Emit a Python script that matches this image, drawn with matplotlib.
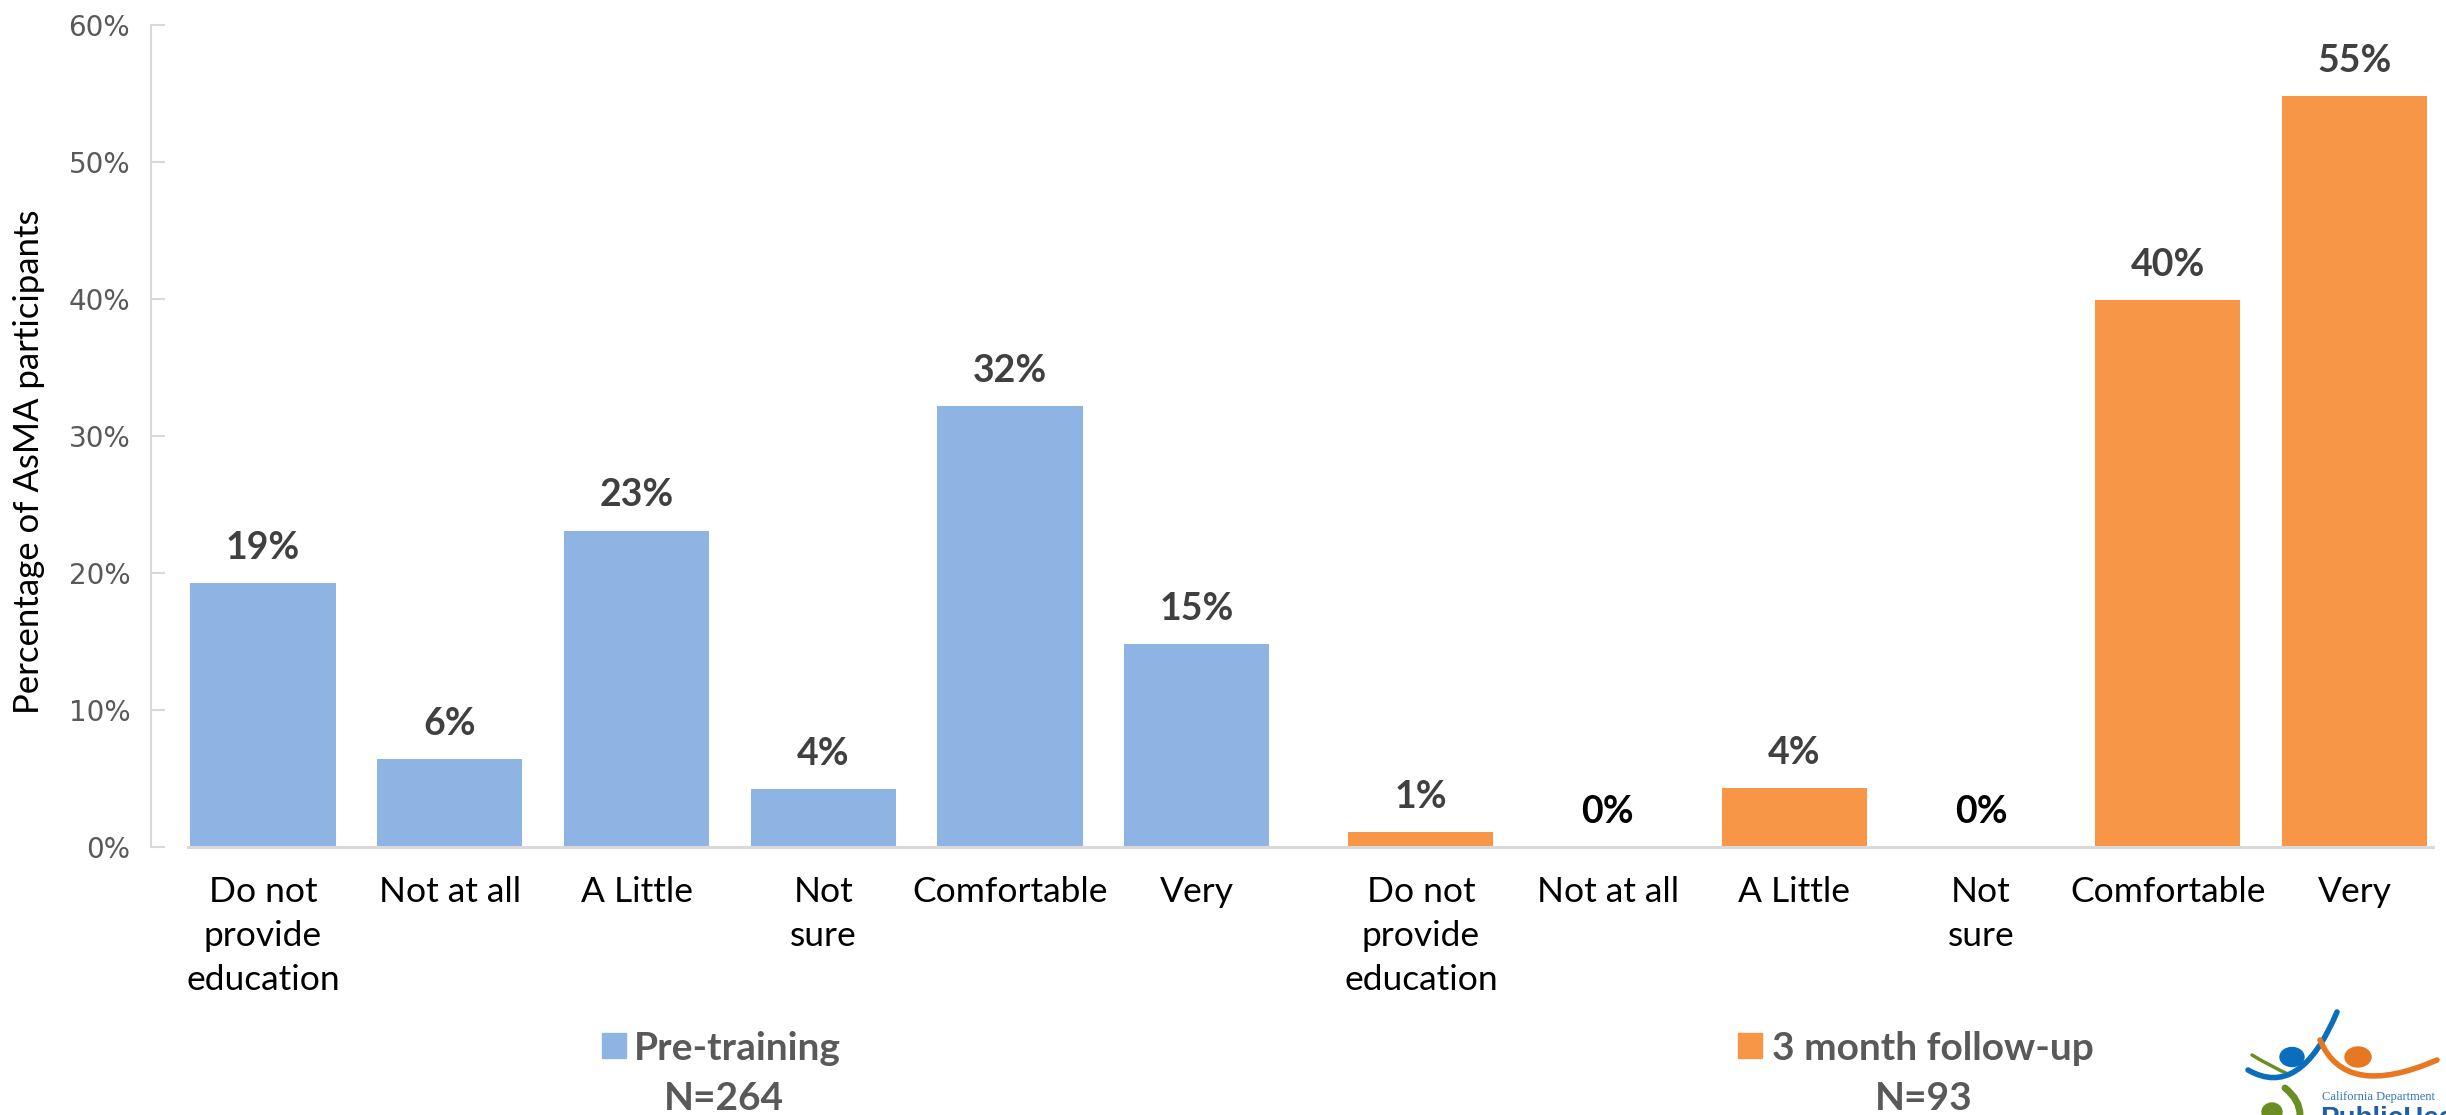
import matplotlib
matplotlib.use("Agg")
import matplotlib.pyplot as plt
from matplotlib.patches import Rectangle, Ellipse, PathPatch
from matplotlib.path import Path

categories = ["Do not\nprovide\neducation", "Not at all", "A Little", "Not\nsure", "Comfortable", "Very"]
pre_training = [19.3, 6.4, 23.1, 4.2, 32.2, 14.8]
pre_labels = ["19%", "6%", "23%", "4%", "32%", "15%"]
follow_up = [1.1, 0.0, 4.3, 0.0, 39.9, 54.8]
follow_labels = ["1%", "0%", "4%", "0%", "40%", "55%"]
group_names = ["Pre-training", "3 month follow-up"]
group_n = ["N=264", "N=93"]
yticks = [0, 10, 20, 30, 40, 50, 60]

BLUE = "#8EB4E3"
ORANGE = "#F79646"
FONT = ["Lato", "DejaVu Sans"]

W, H = 2446, 1115
fig = plt.figure(figsize=(W / 100, H / 100), dpi=100)


def fx(x):
    return x / W


def fy(y):
    return 1 - y / H


ax = fig.add_axes([fx(151), fy(847), (2433 - 151) / W, (847 - 25) / H])

x_pre = list(range(6))
x_fol = [i + 6.2 for i in range(6)]
width = 0.777

ax.bar(x_pre, pre_training, width, color=BLUE)
ax.bar(x_fol, follow_up, width, color=ORANGE)

# value labels
for xs, vals, labs in [(x_pre, pre_training, pre_labels), (x_fol, follow_up, follow_labels)]:
    for x, v, lab in zip(xs, vals, labs):
        col = "black" if v == 0 else "#404040"
        ax.annotate(lab, (x, v), xytext=(0, 13), textcoords="offset points",
                    ha="center", va="bottom", fontsize=27, fontweight="bold",
                    color=col, family=FONT)

ax.set_xlim(-0.6, 11.62)
ax.set_ylim(0, 60)
ax.set_yticks(yticks)
ax.set_yticklabels([f"{t}%" for t in yticks])
ax.tick_params(axis="y", direction="in", length=10, width=1.5, color="#D9D9D9",
               labelsize=20, labelcolor="#595959", pad=15)
ax.set_xticks(x_pre + x_fol)
ax.set_xticklabels(categories + categories, family=FONT, fontsize=25.5)
ax.tick_params(axis="x", length=0, pad=21)
for lab in ax.get_xticklabels():
    lab.set_verticalalignment("top")
    lab.set_linespacing(1.45)

for s in ["top", "right"]:
    ax.spines[s].set_visible(False)
ax.spines["left"].set_color("#D9D9D9")
ax.spines["left"].set_linewidth(1.5)
ax.spines["bottom"].set_color("#D9D9D9")
ax.spines["bottom"].set_linewidth(2.2)
ax.spines["bottom"].set_bounds(-0.4, 11.62)

fig.text(fx(29), fy(462), "Percentage of AsMA participants", rotation=90,
         ha="center", va="center", family=FONT, fontsize=25)

# group legends
for (sq_x, txt_x, n_x), name, n, col in zip([(602, 634, 724), (1738, 1772, 1924)],
                                             group_names, group_n, [BLUE, ORANGE]):
    fig.add_artist(Rectangle((fx(sq_x), fy(1058)), 24 / W, 25 / H,
                             transform=fig.transFigure, color=col))
    fig.text(fx(txt_x), fy(1048), name, ha="left", va="center", fontsize=28,
             fontweight="bold", color="#595959", family=FONT)
    fig.text(fx(n_x), fy(1098), n, ha="center", va="center", fontsize=28,
             fontweight="bold", color="#595959", family=FONT)

# logo (rough)
LB = "#0A6EBD"
LO = "#E87722"
LG = "#6B8E23"


def curve(p0, p1, p2, col, lw):
    verts = [(fx(p0[0]), fy(p0[1])), (fx(p1[0]), fy(p1[1])), (fx(p2[0]), fy(p2[1]))]
    path = Path(verts, [Path.MOVETO, Path.CURVE3, Path.CURVE3])
    fig.add_artist(PathPatch(path, transform=fig.transFigure, fill=False,
                             edgecolor=col, lw=lw, capstyle="round"))


curve((2252, 1055), (2270, 1066), (2290, 1075), LG, 2.5)
curve((2248, 1070), (2300, 1100), (2337, 1012), LB, 4)
curve((2320, 1040), (2345, 1100), (2437, 1060), LO, 4)
curve((2285, 1088), (2300, 1100), (2300, 1115), LG, 5)
fig.add_artist(Ellipse((fx(2292), fy(1057)), 24 / W, 19 / H, transform=fig.transFigure, color=LB))
fig.add_artist(Ellipse((fx(2358), fy(1057)), 26 / W, 20 / H, transform=fig.transFigure, color=LO))
fig.add_artist(Ellipse((fx(2272), fy(1112)), 20 / W, 18 / H, transform=fig.transFigure, color=LG))
fig.text(fx(2322), fy(1097), "California Department", ha="left", va="center",
         fontsize=9, color="#2E75B6", family="Liberation Serif")
fig.text(fx(2320), fy(1106), "PublicHealth", ha="left", va="top",
         fontsize=20, fontweight="bold", color="#1F5FA8", family="Liberation Sans")

fig.savefig("out.png", dpi=100)
